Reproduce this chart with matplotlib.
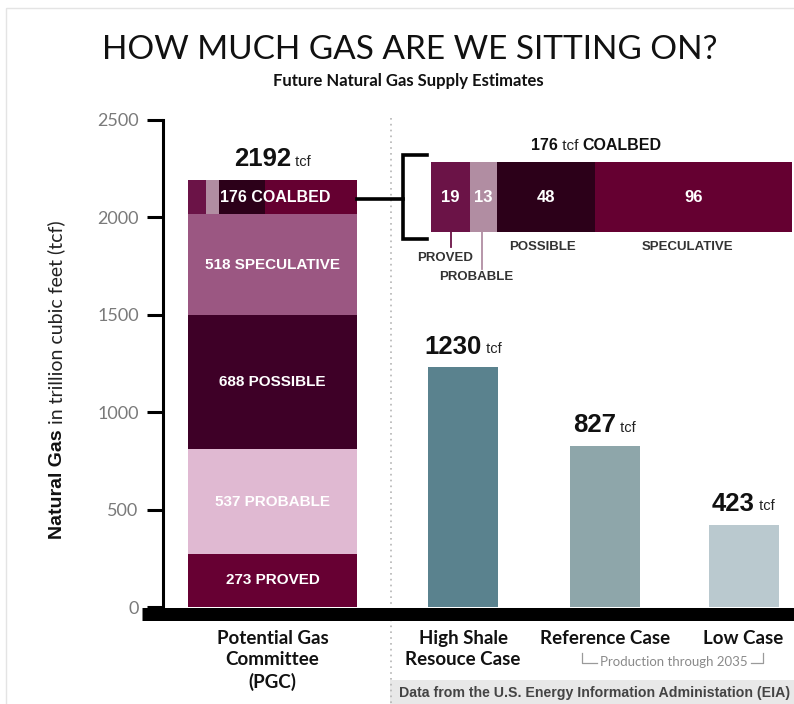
import matplotlib
matplotlib.use("Agg")
import matplotlib.pyplot as plt
from matplotlib.lines import Line2D
from matplotlib.patches import Rectangle
from matplotlib.transforms import Affine2D
import numpy as np

# ---------------- data ----------------
pgc_categories = ["PROVED", "PROBABLE", "POSSIBLE", "SPECULATIVE", "COALBED"]
pgc_values = [273, 537, 688, 518, 176]
pgc_total = 2192
coalbed_parts = ["PROVED", "PROBABLE", "POSSIBLE", "SPECULATIVE"]
coalbed_values = [19, 13, 48, 96]
eia_cases = ["High Shale\nResouce Case", "Reference Case", "Low Case"]
eia_values = [1230, 827, 423]
yticks = [0, 500, 1000, 1500, 2000, 2500]

# ---------------- style / layout ----------------
W, H = 794, 704
stack_colors = ["#670033", "#e0b9d2", "#3e0027", "#9b5782"]
coal_colors = ["#6b1347", "#b18da2", "#2c0019", "#650031"]
eia_colors = ["#5a828e", "#8ea6aa", "#bac9cf"]
pgc_center, pgc_width = 272.5, 169
eia_centers = [463, 605, 743.5]
eia_width = 70

TITLE_FONT = ["Lato", "DejaVu Sans"]
ARIAL = ["Liberation Sans", "DejaVu Sans"]

fig = plt.figure(figsize=(W / 100, H / 100), dpi=100)
fig.patch.set_facecolor("white")
px = Affine2D().scale(1 / W, -1 / H).translate(0, 1) + fig.transFigure

# light border
fig.add_artist(Rectangle((6, 8), 900, 900, transform=px, fill=False,
                         edgecolor="#e4e4e4", lw=1.0))

# bottom data box
fig.add_artist(Rectangle((390, 680), 420, 40, transform=px,
                         facecolor="#e8e8e8", edgecolor="none", zorder=0))
fig.text(399 / W, 1 - 693 / H,
         "Data from the U.S. Energy Information Administation (EIA)",
         transform=fig.transFigure, ha="left", va="center",
         fontsize=10.2, fontweight="bold", color="#444444",
         family=ARIAL)

# dotted separator
fig.add_artist(Line2D([391, 391], [118, 704], transform=px, color="#b5b5b5",
                      lw=1.2, ls=(0, (1, 2.5)), zorder=1))

# main axes: y=0 at px 607, y=2500 at px 120; x in reference-pixel units
ax = fig.add_axes([163 / W, (H - 607) / H, (W - 163) / W, (607 - 120) / H])
ax.set_xlim(163, W)
ax.set_ylim(0, 2500)
ax.patch.set_alpha(0)
for s in ["top", "right", "bottom"]:
    ax.spines[s].set_visible(False)
ax.spines["left"].set_linewidth(2.2)
ax.spines["left"].set_color("black")
ax.set_xticks([])
ax.set_yticks(yticks)
ax.set_yticklabels([str(v) for v in yticks])
ax.tick_params(axis="y", length=11.5, width=2.2, color="black", pad=6,
               labelsize=13, labelcolor="#7a7a7a")
for lbl in ax.get_yticklabels():
    lbl.set_family(TITLE_FONT)

# stacked PGC bar
bottom = 0
for val, name, col in zip(pgc_values[:4], pgc_categories[:4], stack_colors):
    ax.bar(pgc_center, val, width=pgc_width, bottom=bottom, color=col,
           edgecolor="none")
    ax.text(pgc_center, bottom + val / 2, f"{val} {name}", ha="center",
            va="center", color="white", fontsize=11, fontweight="bold",
            family=ARIAL)
    bottom += val
coal_bottom = bottom
coal_total = pgc_values[4]
left_edge = pgc_center - pgc_width / 2
cum = 0
for val, col in zip(coalbed_values, coal_colors):
    ax.bar(left_edge + cum / coal_total * pgc_width, coal_total,
           width=val / coal_total * pgc_width, bottom=coal_bottom,
           color=col, edgecolor="none", align="edge")
    cum += val
ax.text(pgc_center + 3, coal_bottom + coal_total / 2,
        f"{coal_total} {pgc_categories[4]}", ha="center", va="center",
        color="white", fontsize=11.5, fontweight="bold", family=ARIAL)


def value_label(x, y, num, size=18.5):
    t = ax.text(x - 10, y, f"{num}", ha="center", va="bottom",
                fontsize=size, fontweight="bold", family=ARIAL, color="#111111")
    ax.annotate(" tcf", xy=(1, 0.1), xycoords=t, ha="left", va="bottom",
                fontsize=10.5, family=ARIAL, color="#222222")
    return t


value_label(pgc_center, pgc_total + 45, pgc_total)
for c, v, col in zip(eia_centers, eia_values, eia_colors):
    ax.bar(c, v, width=eia_width, color=col, edgecolor="none")
    value_label(c, v + 45, v)

# thick baseline
fig.add_artist(Line2D([142, W], [613.5, 613.5], transform=px, color="black",
                      lw=13 * 0.72, solid_capstyle="butt", zorder=5))

# y label (baseline-anchored, rotated), second part chained after first
ylab1 = fig.text(62 / W, 1 - 539 / H, "Natural Gas", rotation=90, ha="left",
                 va="baseline", rotation_mode="anchor", fontsize=14,
                 fontweight="bold", family=ARIAL, color="#111111")
fig.add_artist(matplotlib.text.Annotation(
    " in trillion cubic feet (tcf)", xy=(62 / W, 1),
    xycoords=("figure fraction", ylab1), rotation=90, ha="left",
    va="baseline", rotation_mode="anchor", fontsize=14,
    family=TITLE_FONT, color="#222222"))

# titles
fig.text(410 / W, 1 - 50 / H, "HOW MUCH GAS ARE WE SITTING ON?",
         ha="center", va="center", fontsize=24, family=TITLE_FONT,
         color="#111111")
fig.text(408 / W, 1 - 81 / H, "Future Natural Gas Supply Estimates",
         ha="center", va="center", fontsize=12, fontweight="bold",
         family=TITLE_FONT, color="#111111")

# category labels below
cat_kw = dict(ha="center", va="top", fontsize=13.5, fontweight="bold",
              family=TITLE_FONT, color="#111111", linespacing=1.32)
fig.text(pgc_center / W, 1 - 630 / H, "Potential Gas\nCommittee\n(PGC)", **cat_kw)
for c, name in zip(eia_centers, eia_cases):
    fig.text(c / W, 1 - 630 / H, name, **cat_kw)

# production through 2035 bracket
fig.text(674 / W, 1 - 662 / H, "Production through 2035", ha="center",
         va="center", fontsize=9.5, family=TITLE_FONT, color="#8a8a8a")
for xs, ys in [([582, 582, 597], [653, 663, 663]),
               ([751, 763, 763], [663, 663, 653])]:
    fig.add_artist(Line2D(xs, ys, transform=px, color="#9a9a9a", lw=0.9))

# coalbed inset bar
iax = fig.add_axes([431 / W, (H - 232) / H, (792 - 431) / W, 70 / H])
iax.set_xlim(0, sum(coalbed_values))
iax.set_ylim(0, 1)
iax.axis("off")
cum = 0
for val, col in zip(coalbed_values, coal_colors):
    iax.barh(0.5, val, left=cum, height=1, color=col, edgecolor="none")
    iax.text(cum + val / 2, 0.5, str(val), ha="center", va="center",
             color="white", fontsize=12, fontweight="bold", family=ARIAL)
    cum += val

# "176 tcf COALBED" heading
t1 = fig.text(558 / W, 1 - 146 / H, f"{coal_total}", ha="right",
              va="center", fontsize=11.5, fontweight="bold", family=ARIAL,
              color="#111111")
t2 = fig.text(558 / W, 1 - 146 / H, " tcf ", ha="left", va="center",
              fontsize=11, family=ARIAL, color="#222222")
ax.annotate("COALBED", xy=(1, 0.5), xycoords=t2, ha="left", va="center",
            fontsize=11.5, fontweight="bold", family=ARIAL, color="#111111",
            annotation_clip=False)

# connector + bracket
fig.add_artist(Line2D([357, 403], [199, 199], transform=px, color="black",
                      lw=2.6))
fig.add_artist(Line2D([427, 403, 403, 427], [155, 155, 239, 239],
                      transform=px, color="black", lw=2.6,
                      solid_joinstyle="miter"))

# inset labels and leaders
fig.add_artist(Line2D([451, 451], [232, 247], transform=px,
                      color=coal_colors[0], lw=1.3))
fig.add_artist(Line2D([482, 482], [232, 269], transform=px,
                      color=coal_colors[1], lw=1.3))
lab_kw = dict(ha="center", va="center", fontsize=9.5, fontweight="bold",
              family=ARIAL, color="#333333")
fig.text(445 / W, 1 - 258 / H, coalbed_parts[0], **lab_kw)
fig.text(476 / W, 1 - 277 / H, coalbed_parts[1], **lab_kw)
fig.text(542 / W, 1 - 247 / H, coalbed_parts[2], **lab_kw)
fig.text(687 / W, 1 - 247 / H, coalbed_parts[3], **lab_kw)

fig.savefig("out.png", dpi=100, facecolor="white")
